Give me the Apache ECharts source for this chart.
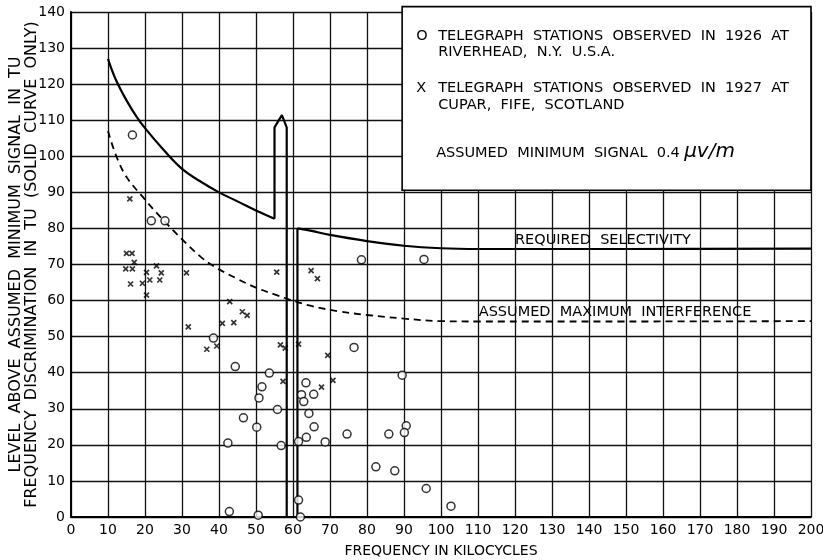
<!DOCTYPE html>
<html>
<head>
<meta charset="utf-8">
<script src="https://cdn.jsdelivr.net/npm/echarts@6/dist/echarts.min.js"></script>
<style>
html,body{margin:0;padding:0;background:#fff}
#chart{width:823px;height:560px}
</style>
</head>
<body>
<div id="chart"></div>
<script>
// axis ranges
var xMax = 200, yMax = 140, step = 10;

// O - stations observed 1926 at Riverhead
var riverhead1926 = [
  [16.6,105.9],[21.7,82.1],[25.4,82.1],[38.5,49.6],[44.4,41.7],[53.6,39.9],
  [51.6,36.1],[50.8,33.0],[55.8,29.8],[46.6,27.5],[50.2,24.9],[42.4,20.5],
  [56.8,19.8],[42.8,1.5],[50.6,0.5],[61.5,20.9],[61.5,4.7],[62.0,0],
  [63.5,37.2],[62.3,33.9],[62.9,32.0],[64.3,28.7],[63.6,22.1],[65.6,34.0],
  [65.7,25.0],[68.7,20.8],[74.6,23.0],[76.5,47.0],[78.5,71.3],[95.4,71.4],
  [89.5,39.3],[90.6,25.3],[90.1,23.4],[85.9,23.0],[82.4,13.9],[87.5,12.8],
  [96.0,7.9],[102.7,3.0]
];

// X - stations observed 1927 at Cupar
var cupar1927 = [
  [15.9,88.2],[15.0,73.1],[16.5,73.1],[17.1,70.6],[14.8,68.8],[16.6,68.8],
  [23.1,69.6],[20.4,67.8],[24.4,67.7],[21.3,65.7],[24.0,65.7],[16.1,64.6],
  [19.3,64.8],[20.4,61.5],[31.2,67.7],[42.9,59.7],[55.6,67.9],[46.3,56.9],
  [47.6,55.9],[40.9,53.7],[44.0,53.9],[31.7,52.7],[36.7,46.5],[39.4,47.4],
  [56.6,47.7],[57.9,46.8],[61.5,47.9],[57.3,37.6],[64.9,68.3],[66.6,66.1],
  [69.4,44.8],[67.7,36.0],[70.8,37.9]
];

// required selectivity (solid curve), in three pieces
var selectivityLeft = [[10,127],[12,121.5],[15,115.5],[17.7,111],[20,107.8],[25,101.8],
  [30,96.5],[35,93],[40,90],[45,87.5],[50,85],[55,82.7]];
var selectivityNotch = [[55,82.7],[55,108],[57,111.4],[58.3,108],[58.3,0],[61.2,0],[61.2,80]];
var selectivityRight = [[61.2,80],[65,79.3],[70,78.2],[80,76.5],[90,75.2],[100,74.5],
  [110,74.3],[150,74.3],[200,74.4]];

// assumed maximum interference (dashed)
var interference = [[10,107],[14,96],[20,88],[25.8,81.4],[30,77],[35,72.2],[38.8,69.4],
  [45,66],[50,63.6],[55,61.7],[59,60.3],[65,58.5],[72.5,57],[80,56],[90,55],
  [100,54.3],[110,54.2],[150,54.2],[200,54.3]];

var FONT = 'DejaVu Sans';
var chart = echarts.init(document.getElementById('chart'));

var lineBase = {type:'line', symbol:'none', silent:true, z:3};

chart.setOption({
  animation:false,
  backgroundColor:'#fff',
  textStyle:{fontFamily:FONT, color:'#000'},
  grid:{left:71, right:12, top:12, bottom:43, containLabel:false, outerBoundsMode:'none'},
  xAxis:{
    type:'value', min:0, max:xMax, interval:step,
    name:'FREQUENCY IN KILOCYCLES', nameLocation:'middle', nameGap:27,
    nameTextStyle:{fontFamily:FONT, fontSize:14, color:'#000'},
    axisLine:{show:true, lineStyle:{color:'#000', width:2}},
    axisTick:{show:false},
    axisLabel:{color:'#000', fontFamily:FONT, fontSize:14, margin:6},
    splitLine:{show:true, lineStyle:{color:'#111', width:1.3}}
  },
  yAxis:{
    type:'value', min:0, max:yMax, interval:step,
    name:'LEVEL  ABOVE  ASSUMED  MINIMUM  SIGNAL  IN  TU\nFREQUENCY  DISCRIMINATION  IN  TU  (SOLID  CURVE  ONLY)',
    nameLocation:'middle', nameRotate:90, nameGap:31, nameMoveOverlap:false,
    nameTextStyle:{fontFamily:FONT, fontSize:16, color:'#000', lineHeight:16},
    axisLine:{show:true, lineStyle:{color:'#000', width:2}},
    axisTick:{show:false},
    axisLabel:{color:'#000', fontFamily:FONT, fontSize:14, margin:6},
    splitLine:{show:true, lineStyle:{color:'#111', width:1.3}}
  },
  series:[
    Object.assign({}, lineBase, {data:selectivityLeft, smooth:0.4, lineStyle:{color:'#000', width:2.2}}),
    Object.assign({}, lineBase, {data:selectivityNotch, lineStyle:{color:'#000', width:2.2}}),
    Object.assign({}, lineBase, {data:selectivityRight, smooth:0.4, lineStyle:{color:'#000', width:2.2}}),
    Object.assign({}, lineBase, {data:interference, smooth:0.4, lineStyle:{color:'#000', width:1.8, type:[7,5]}}),
    {
      type:'scatter', data:riverhead1926, symbol:'circle', symbolSize:8, z:4,
      itemStyle:{color:'#fff', borderColor:'#000', borderWidth:1.5}
    },
    {
      type:'scatter', data:cupar1927, symbol:'path://M0,0L10,10M10,0L0,10', symbolSize:5, z:4,
      itemStyle:{color:'none', borderColor:'#000', borderWidth:1.7}
    }
  ]
});

// legend box and curve captions, placed in data coordinates
var p = function(x, y){ return chart.convertToPixel({xAxisIndex:0, yAxisIndex:0}, [x, y]); };
var boxTL = p(89.5, 141.5), boxBR = p(xMax, 90.6);
var bx = boxTL[0], by = boxTL[1];
var txt = function(x, y, s, extra){
  return {type:'text', x:x, y:y, z:20,
    style:Object.assign({text:s, fill:'#000', font:'14.5px "' + FONT + '"', verticalAlign:'middle'}, extra || {})};
};
var selPos = p(120, 76.8), intPos = p(110.2, 56.8);

chart.setOption({
  graphic:[
    {type:'rect', z:10, shape:{x:bx, y:by, width:boxBR[0]-bx, height:boxBR[1]-by},
      style:{fill:'#fff', stroke:'#000', lineWidth:1.6}},
    txt(bx+14, by+30, 'O'),
    txt(bx+36, by+30, 'TELEGRAPH  STATIONS  OBSERVED  IN  1926  AT'),
    txt(bx+36, by+46, 'RIVERHEAD,  N.Y.  U.S.A.'),
    txt(bx+14, by+82, 'X'),
    txt(bx+36, by+82, 'TELEGRAPH  STATIONS  OBSERVED  IN  1927  AT'),
    txt(bx+36, by+99, 'CUPAR,  FIFE,  SCOTLAND'),
    txt(bx+34, by+147, 'ASSUMED  MINIMUM  SIGNAL  0.4'),
    {type:'text', x:bx+282, y:by+145, z:20,
      style:{text:'μv/m', fill:'#000', font:'italic 20px "' + FONT + '"', verticalAlign:'middle'}},
    txt(selPos[0], selPos[1], 'REQUIRED  SELECTIVITY'),
    txt(intPos[0], intPos[1], 'ASSUMED  MAXIMUM  INTERFERENCE')
  ]
});
</script>
</body>
</html>
